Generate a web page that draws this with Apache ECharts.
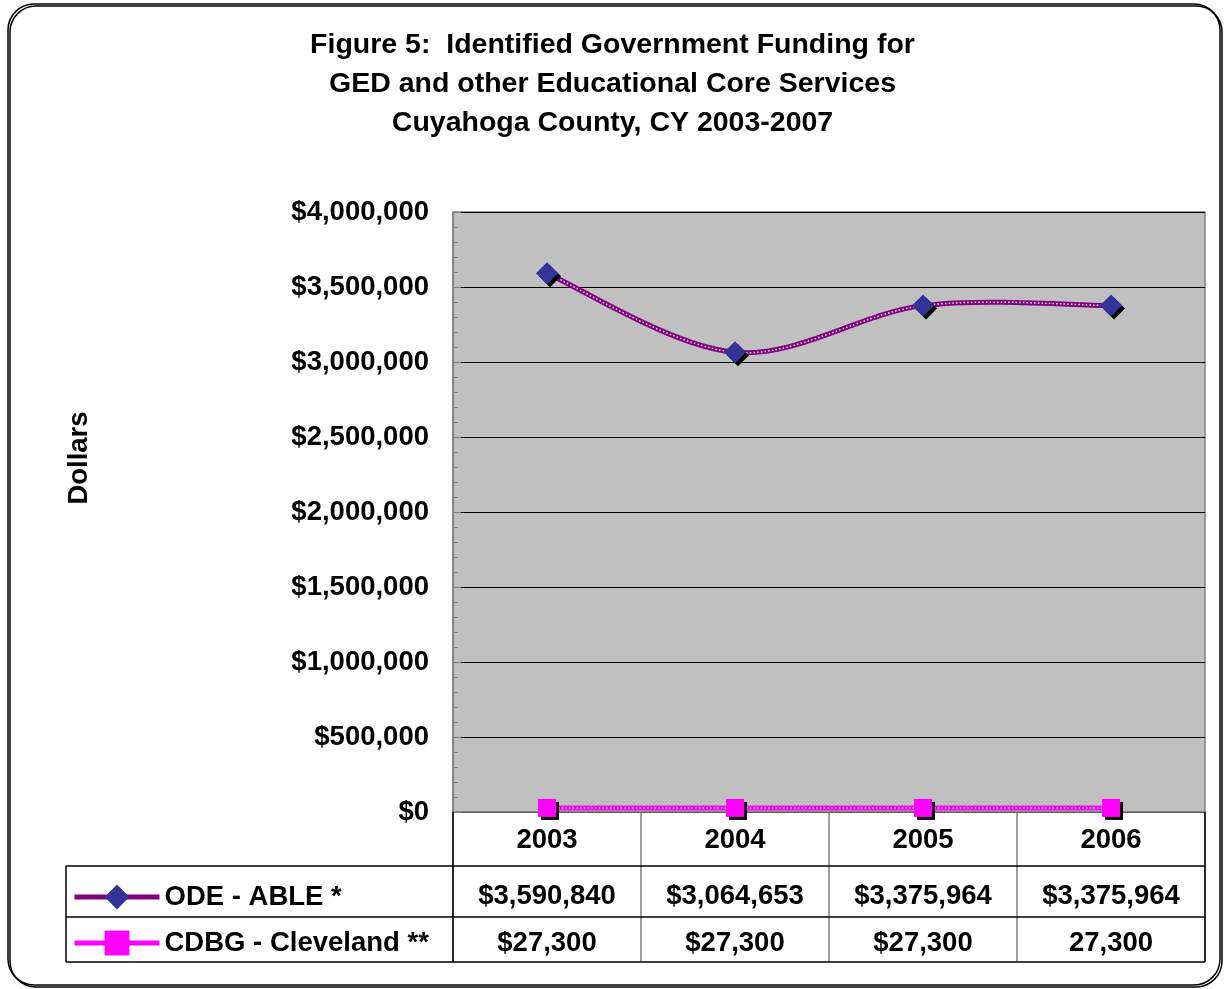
<!DOCTYPE html>
<html>
<head>
<meta charset="utf-8">
<style>
html,body{margin:0;padding:0;background:#fff;}
#chart{width:1225px;height:989px;}
</style>
<script src="https://cdn.jsdelivr.net/npm/echarts@6/dist/echarts.min.js"></script>
</head>
<body>
<div id="chart"></div>
<script>
const categories = ['2003', '2004', '2005', '2006'];
const odeValues = [3590840, 3064653, 3375964, 3375964];
const cdbgValues = [27300, 27300, 27300, 27300];
const odeLabels = ['$3,590,840', '$3,064,653', '$3,375,964', '$3,375,964'];
const cdbgLabels = ['$27,300', '$27,300', '$27,300', '27,300'];
const odeName = 'ODE - ABLE *';
const cdbgName = 'CDBG - Cleveland **';
const titleText = 'Figure 5:  Identified Government Funding for\nGED and other Educational Core Services\nCuyahoga County, CY 2003-2007';

const FONT = '"Liberation Sans", Arial, Helvetica, sans-serif';
const FS = 27.5;
const chart = echarts.init(document.getElementById('chart'));

function tableAxis(labels, offset) {
  return {
    type: 'category', data: labels, gridIndex: 0, position: 'bottom', offset: offset,
    boundaryGap: true,
    axisLine: {show: false}, axisTick: {show: false}, splitLine: {show: false},
    axisLabel: {interval: 0, margin: 14, color: '#000', fontFamily: FONT, fontWeight: 'bold', fontSize: FS}
  };
}

// Excel-like smoothed (Catmull-Rom) line drawn through the axis scales
function curveSeries(name, values, color, smooth) {
  return {
    name: name, type: 'custom', z: 2, silent: true,
    data: values.map((v, i) => [i, v]),
    encode: {x: 0, y: 1},
    renderItem: function (params, api) {
      const i = params.dataIndex;
      const n = values.length;
      if (i >= n - 1) return null;
      const P = k => {
        const kk = Math.max(0, Math.min(n - 1, k));
        return api.coord([kk, values[kk]]);
      };
      const p0 = P(i - 1), p1 = P(i), p2 = P(i + 1), p3 = P(i + 2);
      const f = smooth ? 1 / 6 : 0;
      const shape = {
        x1: p1[0], y1: p1[1], x2: p2[0], y2: p2[1],
        cpx1: p1[0] + (p2[0] - p0[0]) * f, cpy1: p1[1] + (p2[1] - p0[1]) * f,
        cpx2: p2[0] - (p3[0] - p1[0]) * f, cpy2: p2[1] - (p3[1] - p1[1]) * f
      };
      return {
        type: 'group',
        children: [
          {type: 'bezierCurve', shape: shape, style: {fill: 'none', stroke: color, lineWidth: 5}},
          {type: 'bezierCurve', shape: shape, style: {fill: 'none', stroke: '#ffffff', lineWidth: 1.5, lineDash: [1.5, 2.2], opacity: 0.9}}
        ]
      };
    }
  };
}

const option = {
  animation: false,
  backgroundColor: '#fff',
  title: {
    text: titleText, left: 'center', top: 26, padding: 0,
    textStyle: {fontFamily: FONT, fontWeight: 'bold', fontSize: 28.5, lineHeight: 39, color: '#000'}
  },
  legend: {
    orient: 'vertical', left: 72, top: 883, padding: 0,
    itemWidth: 85, itemHeight: 31, itemGap: 18,
    textStyle: {fontFamily: FONT, fontWeight: 'bold', fontSize: FS, color: '#000'},
    data: [
      {name: odeName, lineStyle: {color: '#800080', width: 5, opacity: 1}},
      {name: cdbgName, lineStyle: {color: '#FF00FF', width: 5, opacity: 1}}
    ]
  },
  grid: {
    left: 453, right: 20, top: 212, bottom: 177,
    show: true, backgroundColor: '#C0C0C0', borderColor: '#808080', borderWidth: 1.5
  },
  xAxis: [
    {
      type: 'category', data: categories, boundaryGap: true,
      axisLine: {show: true, lineStyle: {color: '#808080', width: 1.5}},
      axisTick: {show: true, interval: 0, length: 150, lineStyle: {color: '#808080', width: 1.5}},
      axisLabel: {interval: 0, margin: 14, color: '#000', fontFamily: FONT, fontWeight: 'bold', fontSize: FS}
    },
    tableAxis(odeLabels, 56.5),
    tableAxis(cdbgLabels, 103.5)
  ],
  yAxis: {
    type: 'value', min: 0, max: 4000000, interval: 500000,
    axisLine: {show: true, lineStyle: {color: '#808080', width: 1.5}},
    axisTick: {show: true, inside: true, length: 8, lineStyle: {color: '#808080'}},
    minorTick: {show: true, splitNumber: 5, length: 5, lineStyle: {color: '#808080'}},
    splitLine: {show: true, lineStyle: {color: '#000', width: 1}},
    axisLabel: {
      margin: 24, color: '#000', fontFamily: FONT, fontWeight: 'bold', fontSize: FS,
      padding: [6, 0, 0, 0],
      formatter: v => '$' + v.toLocaleString('en-US')
    }
  },
  series: [
    curveSeries('ode-curve', odeValues, '#800080', true),
    {
      name: odeName, type: 'line', data: odeValues, z: 4,
      symbol: 'diamond', symbolSize: 22,
      lineStyle: {width: 0, opacity: 0},
      itemStyle: {color: '#333399', shadowColor: '#000', shadowOffsetX: 3, shadowOffsetY: 3, shadowBlur: 0}
    },
    curveSeries('cdbg-curve', cdbgValues, '#FF00FF', false),
    {
      name: cdbgName, type: 'line', data: cdbgValues, z: 4,
      symbol: 'rect', symbolSize: 18,
      lineStyle: {width: 0, opacity: 0},
      itemStyle: {color: '#FF00FF', shadowColor: '#000', shadowOffsetX: 3, shadowOffsetY: 3, shadowBlur: 0}
    }
  ],
  graphic: [
    {type: 'rect', z: -10, silent: true,
      shape: {x: 8, y: 4, width: 1212, height: 981, r: 26},
      style: {fill: 'none', stroke: '#000', lineWidth: 1.5, shadowColor: '#000', shadowOffsetX: 2, shadowOffsetY: 2, shadowBlur: 0}},
    {type: 'text', z: 50, silent: true, x: 79, y: 458, rotation: Math.PI / 2,
      style: {text: 'Dollars', fontFamily: FONT, fontWeight: 'bold', fontSize: FS, fill: '#000', align: 'center', verticalAlign: 'middle'}},
    {type: 'line', z: 50, silent: true, shape: {x1: 66, y1: 866, x2: 1205, y2: 866}, style: {stroke: '#000', lineWidth: 1.5}},
    {type: 'line', z: 50, silent: true, shape: {x1: 66, y1: 917, x2: 1205, y2: 917}, style: {stroke: '#000', lineWidth: 1.5}},
    {type: 'line', z: 50, silent: true, shape: {x1: 66, y1: 962, x2: 1205, y2: 962}, style: {stroke: '#000', lineWidth: 1.5}},
    {type: 'line', z: 50, silent: true, shape: {x1: 66, y1: 866, x2: 66, y2: 962}, style: {stroke: '#000', lineWidth: 1.5}},
    {type: 'line', z: 50, silent: true, shape: {x1: 453, y1: 812, x2: 453, y2: 962}, style: {stroke: '#000', lineWidth: 1.5}},
    {type: 'line', z: 50, silent: true, shape: {x1: 1205, y1: 812, x2: 1205, y2: 962}, style: {stroke: '#000', lineWidth: 1.5}}
  ]
};
chart.setOption(option);
</script>
</body>
</html>
